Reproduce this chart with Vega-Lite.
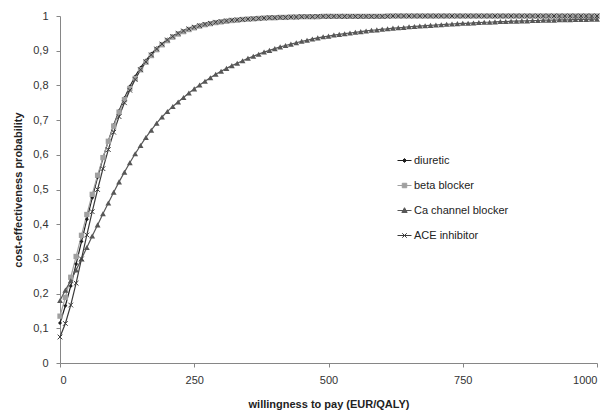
{
  "$schema": "https://vega.github.io/schema/vega-lite/v6.json",
  "width": 537,
  "height": 347,
  "autosize": {"type": "none"},
  "padding": {"left": 60, "top": 16, "right": 14, "bottom": 51},
  "background": "white",
  "config": {"view": {"stroke": null}, "font": "Liberation Sans"},
  "data": {"values": [
    {"w":0,"s":"diuretic","p":0.115},{"w":10,"s":"diuretic","p":0.165},{"w":20,"s":"diuretic","p":0.222},{"w":30,"s":"diuretic","p":0.285},{"w":40,"s":"diuretic","p":0.350},{"w":50,"s":"diuretic","p":0.414},{"w":60,"s":"diuretic","p":0.476},{"w":70,"s":"diuretic","p":0.535},{"w":80,"s":"diuretic","p":0.590},{"w":90,"s":"diuretic","p":0.640},
    {"w":100,"s":"diuretic","p":0.686},{"w":110,"s":"diuretic","p":0.727},{"w":120,"s":"diuretic","p":0.764},{"w":130,"s":"diuretic","p":0.797},{"w":140,"s":"diuretic","p":0.826},{"w":150,"s":"diuretic","p":0.851},{"w":160,"s":"diuretic","p":0.872},{"w":170,"s":"diuretic","p":0.891},{"w":180,"s":"diuretic","p":0.907},{"w":190,"s":"diuretic","p":0.920},
    {"w":200,"s":"diuretic","p":0.932},{"w":210,"s":"diuretic","p":0.942},{"w":220,"s":"diuretic","p":0.950},{"w":230,"s":"diuretic","p":0.957},{"w":240,"s":"diuretic","p":0.963},{"w":250,"s":"diuretic","p":0.968},{"w":260,"s":"diuretic","p":0.973},{"w":270,"s":"diuretic","p":0.977},{"w":280,"s":"diuretic","p":0.980},{"w":290,"s":"diuretic","p":0.983},
    {"w":300,"s":"diuretic","p":0.985},{"w":310,"s":"diuretic","p":0.987},{"w":320,"s":"diuretic","p":0.989},{"w":330,"s":"diuretic","p":0.990},{"w":340,"s":"diuretic","p":0.991},{"w":350,"s":"diuretic","p":0.992},{"w":360,"s":"diuretic","p":0.993},{"w":370,"s":"diuretic","p":0.994},{"w":380,"s":"diuretic","p":0.995},{"w":390,"s":"diuretic","p":0.996},
    {"w":400,"s":"diuretic","p":0.996},{"w":410,"s":"diuretic","p":0.997},{"w":420,"s":"diuretic","p":0.997},{"w":430,"s":"diuretic","p":0.998},{"w":440,"s":"diuretic","p":0.998},{"w":450,"s":"diuretic","p":0.998},{"w":460,"s":"diuretic","p":0.999},{"w":470,"s":"diuretic","p":0.999},{"w":480,"s":"diuretic","p":0.999},{"w":490,"s":"diuretic","p":0.999},
    {"w":500,"s":"diuretic","p":0.999},{"w":510,"s":"diuretic","p":0.999},{"w":520,"s":"diuretic","p":0.999},{"w":530,"s":"diuretic","p":0.999},{"w":540,"s":"diuretic","p":0.999},{"w":550,"s":"diuretic","p":0.999},{"w":560,"s":"diuretic","p":0.999},{"w":570,"s":"diuretic","p":0.999},{"w":580,"s":"diuretic","p":0.999},{"w":590,"s":"diuretic","p":0.999},
    {"w":600,"s":"diuretic","p":0.999},{"w":610,"s":"diuretic","p":1},{"w":620,"s":"diuretic","p":1},{"w":630,"s":"diuretic","p":1},{"w":640,"s":"diuretic","p":1},{"w":650,"s":"diuretic","p":1},{"w":660,"s":"diuretic","p":1},{"w":670,"s":"diuretic","p":1},{"w":680,"s":"diuretic","p":1},{"w":690,"s":"diuretic","p":1},
    {"w":700,"s":"diuretic","p":1},{"w":710,"s":"diuretic","p":1},{"w":720,"s":"diuretic","p":1},{"w":730,"s":"diuretic","p":1},{"w":740,"s":"diuretic","p":1},{"w":750,"s":"diuretic","p":1},{"w":760,"s":"diuretic","p":1},{"w":770,"s":"diuretic","p":1},{"w":780,"s":"diuretic","p":1},{"w":790,"s":"diuretic","p":1},
    {"w":800,"s":"diuretic","p":1},{"w":810,"s":"diuretic","p":1},{"w":820,"s":"diuretic","p":1},{"w":830,"s":"diuretic","p":1},{"w":840,"s":"diuretic","p":1},{"w":850,"s":"diuretic","p":1},{"w":860,"s":"diuretic","p":1},{"w":870,"s":"diuretic","p":1},{"w":880,"s":"diuretic","p":1},{"w":890,"s":"diuretic","p":1},
    {"w":900,"s":"diuretic","p":1},{"w":910,"s":"diuretic","p":1},{"w":920,"s":"diuretic","p":1},{"w":930,"s":"diuretic","p":1},{"w":940,"s":"diuretic","p":1},{"w":950,"s":"diuretic","p":1},{"w":960,"s":"diuretic","p":1},{"w":970,"s":"diuretic","p":1},{"w":980,"s":"diuretic","p":1},{"w":990,"s":"diuretic","p":1},{"w":1000,"s":"diuretic","p":1},

    {"w":0,"s":"beta blocker","p":0.135},{"w":10,"s":"beta blocker","p":0.189},{"w":20,"s":"beta blocker","p":0.247},{"w":30,"s":"beta blocker","p":0.307},{"w":40,"s":"beta blocker","p":0.368},{"w":50,"s":"beta blocker","p":0.428},{"w":60,"s":"beta blocker","p":0.486},{"w":70,"s":"beta blocker","p":0.541},{"w":80,"s":"beta blocker","p":0.592},{"w":90,"s":"beta blocker","p":0.639},
    {"w":100,"s":"beta blocker","p":0.683},{"w":110,"s":"beta blocker","p":0.723},{"w":120,"s":"beta blocker","p":0.759},{"w":130,"s":"beta blocker","p":0.791},{"w":140,"s":"beta blocker","p":0.820},{"w":150,"s":"beta blocker","p":0.845},{"w":160,"s":"beta blocker","p":0.867},{"w":170,"s":"beta blocker","p":0.886},{"w":180,"s":"beta blocker","p":0.903},{"w":190,"s":"beta blocker","p":0.917},
    {"w":200,"s":"beta blocker","p":0.929},{"w":210,"s":"beta blocker","p":0.939},{"w":220,"s":"beta blocker","p":0.948},{"w":230,"s":"beta blocker","p":0.955},{"w":240,"s":"beta blocker","p":0.961},{"w":250,"s":"beta blocker","p":0.966},{"w":260,"s":"beta blocker","p":0.971},{"w":270,"s":"beta blocker","p":0.975},{"w":280,"s":"beta blocker","p":0.978},{"w":290,"s":"beta blocker","p":0.981},
    {"w":300,"s":"beta blocker","p":0.983},{"w":310,"s":"beta blocker","p":0.985},{"w":320,"s":"beta blocker","p":0.987},{"w":330,"s":"beta blocker","p":0.988},{"w":340,"s":"beta blocker","p":0.990},{"w":350,"s":"beta blocker","p":0.991},{"w":360,"s":"beta blocker","p":0.992},{"w":370,"s":"beta blocker","p":0.993},{"w":380,"s":"beta blocker","p":0.994},{"w":390,"s":"beta blocker","p":0.995},
    {"w":400,"s":"beta blocker","p":0.995},{"w":410,"s":"beta blocker","p":0.996},{"w":420,"s":"beta blocker","p":0.996},{"w":430,"s":"beta blocker","p":0.997},{"w":440,"s":"beta blocker","p":0.997},{"w":450,"s":"beta blocker","p":0.998},{"w":460,"s":"beta blocker","p":0.998},{"w":470,"s":"beta blocker","p":0.998},{"w":480,"s":"beta blocker","p":0.998},{"w":490,"s":"beta blocker","p":0.999},
    {"w":500,"s":"beta blocker","p":0.999},{"w":510,"s":"beta blocker","p":0.999},{"w":520,"s":"beta blocker","p":0.999},{"w":530,"s":"beta blocker","p":0.999},{"w":540,"s":"beta blocker","p":0.999},{"w":550,"s":"beta blocker","p":0.999},{"w":560,"s":"beta blocker","p":0.999},{"w":570,"s":"beta blocker","p":0.999},{"w":580,"s":"beta blocker","p":0.999},{"w":590,"s":"beta blocker","p":0.999},
    {"w":600,"s":"beta blocker","p":0.999},{"w":610,"s":"beta blocker","p":1},{"w":620,"s":"beta blocker","p":1},{"w":630,"s":"beta blocker","p":1},{"w":640,"s":"beta blocker","p":1},{"w":650,"s":"beta blocker","p":1},{"w":660,"s":"beta blocker","p":1},{"w":670,"s":"beta blocker","p":1},{"w":680,"s":"beta blocker","p":1},{"w":690,"s":"beta blocker","p":1},
    {"w":700,"s":"beta blocker","p":1},{"w":710,"s":"beta blocker","p":1},{"w":720,"s":"beta blocker","p":1},{"w":730,"s":"beta blocker","p":1},{"w":740,"s":"beta blocker","p":1},{"w":750,"s":"beta blocker","p":1},{"w":760,"s":"beta blocker","p":1},{"w":770,"s":"beta blocker","p":1},{"w":780,"s":"beta blocker","p":1},{"w":790,"s":"beta blocker","p":1},
    {"w":800,"s":"beta blocker","p":1},{"w":810,"s":"beta blocker","p":1},{"w":820,"s":"beta blocker","p":1},{"w":830,"s":"beta blocker","p":1},{"w":840,"s":"beta blocker","p":1},{"w":850,"s":"beta blocker","p":1},{"w":860,"s":"beta blocker","p":1},{"w":870,"s":"beta blocker","p":1},{"w":880,"s":"beta blocker","p":1},{"w":890,"s":"beta blocker","p":1},
    {"w":900,"s":"beta blocker","p":1},{"w":910,"s":"beta blocker","p":1},{"w":920,"s":"beta blocker","p":1},{"w":930,"s":"beta blocker","p":1},{"w":940,"s":"beta blocker","p":1},{"w":950,"s":"beta blocker","p":1},{"w":960,"s":"beta blocker","p":1},{"w":970,"s":"beta blocker","p":1},{"w":980,"s":"beta blocker","p":1},{"w":990,"s":"beta blocker","p":1},{"w":1000,"s":"beta blocker","p":1},

    {"w":0,"s":"Ca channel blocker","p":0.180},{"w":10,"s":"Ca channel blocker","p":0.210},{"w":20,"s":"Ca channel blocker","p":0.237},{"w":30,"s":"Ca channel blocker","p":0.268},{"w":40,"s":"Ca channel blocker","p":0.300},{"w":50,"s":"Ca channel blocker","p":0.333},{"w":60,"s":"Ca channel blocker","p":0.366},{"w":70,"s":"Ca channel blocker","p":0.398},{"w":80,"s":"Ca channel blocker","p":0.430},{"w":90,"s":"Ca channel blocker","p":0.461},
    {"w":100,"s":"Ca channel blocker","p":0.492},{"w":110,"s":"Ca channel blocker","p":0.522},{"w":120,"s":"Ca channel blocker","p":0.550},{"w":130,"s":"Ca channel blocker","p":0.577},{"w":140,"s":"Ca channel blocker","p":0.603},{"w":150,"s":"Ca channel blocker","p":0.627},{"w":160,"s":"Ca channel blocker","p":0.650},{"w":170,"s":"Ca channel blocker","p":0.671},{"w":180,"s":"Ca channel blocker","p":0.691},{"w":190,"s":"Ca channel blocker","p":0.709},
    {"w":200,"s":"Ca channel blocker","p":0.725},{"w":210,"s":"Ca channel blocker","p":0.739},{"w":220,"s":"Ca channel blocker","p":0.752},{"w":230,"s":"Ca channel blocker","p":0.765},{"w":240,"s":"Ca channel blocker","p":0.778},{"w":250,"s":"Ca channel blocker","p":0.790},{"w":260,"s":"Ca channel blocker","p":0.801},{"w":270,"s":"Ca channel blocker","p":0.812},{"w":280,"s":"Ca channel blocker","p":0.822},{"w":290,"s":"Ca channel blocker","p":0.832},
    {"w":300,"s":"Ca channel blocker","p":0.841},{"w":310,"s":"Ca channel blocker","p":0.849},{"w":320,"s":"Ca channel blocker","p":0.857},{"w":330,"s":"Ca channel blocker","p":0.864},{"w":340,"s":"Ca channel blocker","p":0.871},{"w":350,"s":"Ca channel blocker","p":0.878},{"w":360,"s":"Ca channel blocker","p":0.884},{"w":370,"s":"Ca channel blocker","p":0.890},{"w":380,"s":"Ca channel blocker","p":0.896},{"w":390,"s":"Ca channel blocker","p":0.901},
    {"w":400,"s":"Ca channel blocker","p":0.906},{"w":410,"s":"Ca channel blocker","p":0.911},{"w":420,"s":"Ca channel blocker","p":0.915},{"w":430,"s":"Ca channel blocker","p":0.919},{"w":440,"s":"Ca channel blocker","p":0.923},{"w":450,"s":"Ca channel blocker","p":0.927},{"w":460,"s":"Ca channel blocker","p":0.930},{"w":470,"s":"Ca channel blocker","p":0.934},{"w":480,"s":"Ca channel blocker","p":0.937},{"w":490,"s":"Ca channel blocker","p":0.940},
    {"w":500,"s":"Ca channel blocker","p":0.942},{"w":510,"s":"Ca channel blocker","p":0.945},{"w":520,"s":"Ca channel blocker","p":0.947},{"w":530,"s":"Ca channel blocker","p":0.949},{"w":540,"s":"Ca channel blocker","p":0.951},{"w":550,"s":"Ca channel blocker","p":0.953},{"w":560,"s":"Ca channel blocker","p":0.955},{"w":570,"s":"Ca channel blocker","p":0.957},{"w":580,"s":"Ca channel blocker","p":0.959},{"w":590,"s":"Ca channel blocker","p":0.960},
    {"w":600,"s":"Ca channel blocker","p":0.962},{"w":610,"s":"Ca channel blocker","p":0.963},{"w":620,"s":"Ca channel blocker","p":0.965},{"w":630,"s":"Ca channel blocker","p":0.966},{"w":640,"s":"Ca channel blocker","p":0.967},{"w":650,"s":"Ca channel blocker","p":0.969},{"w":660,"s":"Ca channel blocker","p":0.970},{"w":670,"s":"Ca channel blocker","p":0.971},{"w":680,"s":"Ca channel blocker","p":0.972},{"w":690,"s":"Ca channel blocker","p":0.973},
    {"w":700,"s":"Ca channel blocker","p":0.974},{"w":710,"s":"Ca channel blocker","p":0.975},{"w":720,"s":"Ca channel blocker","p":0.976},{"w":730,"s":"Ca channel blocker","p":0.977},{"w":740,"s":"Ca channel blocker","p":0.978},{"w":750,"s":"Ca channel blocker","p":0.979},{"w":760,"s":"Ca channel blocker","p":0.979},{"w":770,"s":"Ca channel blocker","p":0.980},{"w":780,"s":"Ca channel blocker","p":0.981},{"w":790,"s":"Ca channel blocker","p":0.982},
    {"w":800,"s":"Ca channel blocker","p":0.982},{"w":810,"s":"Ca channel blocker","p":0.983},{"w":820,"s":"Ca channel blocker","p":0.984},{"w":830,"s":"Ca channel blocker","p":0.984},{"w":840,"s":"Ca channel blocker","p":0.985},{"w":850,"s":"Ca channel blocker","p":0.985},{"w":860,"s":"Ca channel blocker","p":0.986},{"w":870,"s":"Ca channel blocker","p":0.986},{"w":880,"s":"Ca channel blocker","p":0.987},{"w":890,"s":"Ca channel blocker","p":0.987},
    {"w":900,"s":"Ca channel blocker","p":0.988},{"w":910,"s":"Ca channel blocker","p":0.988},{"w":920,"s":"Ca channel blocker","p":0.988},{"w":930,"s":"Ca channel blocker","p":0.989},{"w":940,"s":"Ca channel blocker","p":0.989},{"w":950,"s":"Ca channel blocker","p":0.989},{"w":960,"s":"Ca channel blocker","p":0.990},{"w":970,"s":"Ca channel blocker","p":0.990},{"w":980,"s":"Ca channel blocker","p":0.990},{"w":990,"s":"Ca channel blocker","p":0.991},{"w":1000,"s":"Ca channel blocker","p":0.991},

    {"w":0,"s":"ACE inhibitor","p":0.075},{"w":10,"s":"ACE inhibitor","p":0.114},{"w":20,"s":"ACE inhibitor","p":0.167},{"w":30,"s":"ACE inhibitor","p":0.230},{"w":40,"s":"ACE inhibitor","p":0.300},{"w":50,"s":"ACE inhibitor","p":0.369},{"w":60,"s":"ACE inhibitor","p":0.436},{"w":70,"s":"ACE inhibitor","p":0.500},{"w":80,"s":"ACE inhibitor","p":0.560},{"w":90,"s":"ACE inhibitor","p":0.615},
    {"w":100,"s":"ACE inhibitor","p":0.665},{"w":110,"s":"ACE inhibitor","p":0.710},{"w":120,"s":"ACE inhibitor","p":0.750},{"w":130,"s":"ACE inhibitor","p":0.786},{"w":140,"s":"ACE inhibitor","p":0.817},{"w":150,"s":"ACE inhibitor","p":0.845},{"w":160,"s":"ACE inhibitor","p":0.868},{"w":170,"s":"ACE inhibitor","p":0.888},{"w":180,"s":"ACE inhibitor","p":0.905},{"w":190,"s":"ACE inhibitor","p":0.919},
    {"w":200,"s":"ACE inhibitor","p":0.931},{"w":210,"s":"ACE inhibitor","p":0.941},{"w":220,"s":"ACE inhibitor","p":0.950},{"w":230,"s":"ACE inhibitor","p":0.957},{"w":240,"s":"ACE inhibitor","p":0.963},{"w":250,"s":"ACE inhibitor","p":0.968},{"w":260,"s":"ACE inhibitor","p":0.972},{"w":270,"s":"ACE inhibitor","p":0.976},{"w":280,"s":"ACE inhibitor","p":0.979},{"w":290,"s":"ACE inhibitor","p":0.982},
    {"w":300,"s":"ACE inhibitor","p":0.984},{"w":310,"s":"ACE inhibitor","p":0.986},{"w":320,"s":"ACE inhibitor","p":0.988},{"w":330,"s":"ACE inhibitor","p":0.989},{"w":340,"s":"ACE inhibitor","p":0.990},{"w":350,"s":"ACE inhibitor","p":0.991},{"w":360,"s":"ACE inhibitor","p":0.992},{"w":370,"s":"ACE inhibitor","p":0.993},{"w":380,"s":"ACE inhibitor","p":0.994},{"w":390,"s":"ACE inhibitor","p":0.995},
    {"w":400,"s":"ACE inhibitor","p":0.995},{"w":410,"s":"ACE inhibitor","p":0.996},{"w":420,"s":"ACE inhibitor","p":0.996},{"w":430,"s":"ACE inhibitor","p":0.997},{"w":440,"s":"ACE inhibitor","p":0.997},{"w":450,"s":"ACE inhibitor","p":0.998},{"w":460,"s":"ACE inhibitor","p":0.998},{"w":470,"s":"ACE inhibitor","p":0.998},{"w":480,"s":"ACE inhibitor","p":0.999},{"w":490,"s":"ACE inhibitor","p":0.999},
    {"w":500,"s":"ACE inhibitor","p":0.999},{"w":510,"s":"ACE inhibitor","p":0.999},{"w":520,"s":"ACE inhibitor","p":0.999},{"w":530,"s":"ACE inhibitor","p":0.999},{"w":540,"s":"ACE inhibitor","p":0.999},{"w":550,"s":"ACE inhibitor","p":0.999},{"w":560,"s":"ACE inhibitor","p":0.999},{"w":570,"s":"ACE inhibitor","p":0.999},{"w":580,"s":"ACE inhibitor","p":0.999},{"w":590,"s":"ACE inhibitor","p":0.999},
    {"w":600,"s":"ACE inhibitor","p":0.999},{"w":610,"s":"ACE inhibitor","p":0.999},{"w":620,"s":"ACE inhibitor","p":1},{"w":630,"s":"ACE inhibitor","p":1},{"w":640,"s":"ACE inhibitor","p":1},{"w":650,"s":"ACE inhibitor","p":1},{"w":660,"s":"ACE inhibitor","p":1},{"w":670,"s":"ACE inhibitor","p":1},{"w":680,"s":"ACE inhibitor","p":1},{"w":690,"s":"ACE inhibitor","p":1},
    {"w":700,"s":"ACE inhibitor","p":1},{"w":710,"s":"ACE inhibitor","p":1},{"w":720,"s":"ACE inhibitor","p":1},{"w":730,"s":"ACE inhibitor","p":1},{"w":740,"s":"ACE inhibitor","p":1},{"w":750,"s":"ACE inhibitor","p":1},{"w":760,"s":"ACE inhibitor","p":1},{"w":770,"s":"ACE inhibitor","p":1},{"w":780,"s":"ACE inhibitor","p":1},{"w":790,"s":"ACE inhibitor","p":1},
    {"w":800,"s":"ACE inhibitor","p":1},{"w":810,"s":"ACE inhibitor","p":1},{"w":820,"s":"ACE inhibitor","p":1},{"w":830,"s":"ACE inhibitor","p":1},{"w":840,"s":"ACE inhibitor","p":1},{"w":850,"s":"ACE inhibitor","p":1},{"w":860,"s":"ACE inhibitor","p":1},{"w":870,"s":"ACE inhibitor","p":1},{"w":880,"s":"ACE inhibitor","p":1},{"w":890,"s":"ACE inhibitor","p":1},
    {"w":900,"s":"ACE inhibitor","p":1},{"w":910,"s":"ACE inhibitor","p":1},{"w":920,"s":"ACE inhibitor","p":1},{"w":930,"s":"ACE inhibitor","p":1},{"w":940,"s":"ACE inhibitor","p":1},{"w":950,"s":"ACE inhibitor","p":1},{"w":960,"s":"ACE inhibitor","p":1},{"w":970,"s":"ACE inhibitor","p":1},{"w":980,"s":"ACE inhibitor","p":1},{"w":990,"s":"ACE inhibitor","p":1},{"w":1000,"s":"ACE inhibitor","p":1}
  ]},
  "encoding": {
    "x": {"field": "w", "type": "quantitative", "title": "willingness to pay (EUR/QALY)",
      "scale": {"domain": [0, 1000], "nice": false, "zero": false},
      "axis": {"values": [0, 250, 500, 750, 1000], "format": "d", "grid": false,
        "domainColor": "#868686", "tickColor": "#868686", "tickSize": 4,
        "labelFont": "Liberation Sans", "labelFontSize": 11, "labelColor": "#333333", "labelPadding": 7,
        "titleFont": "Liberation Sans", "titleFontSize": 11, "titleFontWeight": "bold", "titleColor": "#222222", "titlePadding": 13}},
    "y": {"field": "p", "type": "quantitative", "title": "cost-effectiveness probability",
      "scale": {"domain": [0, 1], "nice": false},
      "axis": {"values": [0, 0.1, 0.2, 0.3, 0.4, 0.5, 0.6, 0.7, 0.8, 0.9, 1], "grid": false,
        "labelExpr": "replace(format(datum.value, '.1~f'), '.', ',')",
        "domainColor": "#868686", "tickColor": "#868686", "tickSize": 4,
        "labelFont": "Liberation Sans", "labelFontSize": 11, "labelColor": "#333333", "labelPadding": 8,
        "titleFont": "Liberation Sans", "titleFontSize": 11, "titleFontWeight": "bold", "titleColor": "#222222", "titlePadding": 9}},
    "color": {"field": "s", "type": "nominal",
      "scale": {"domain": ["diuretic", "beta blocker", "Ca channel blocker", "ACE inhibitor"],
                "range": ["#1e1e1e", "#a0a0a0", "#575757", "#3a3a3a"]},
      "legend": {"title": null, "orient": "none", "legendX": 337, "legendY": 137, "padding": 0,
        "symbolSize": 196, "rowPadding": 12, "labelOffset": 2,
        "labelFont": "Liberation Sans", "labelFontSize": 11, "labelColor": "#222222",
        "encode": {"symbols": {"update": {
          "shape": {"signal": "datum.value === 'diuretic' ? 'M-1,0H1M0,-0.28L0.28,0L0,0.28L-0.28,0Z' : datum.value === 'beta blocker' ? 'M-1,0H1M-0.32,-0.32H0.32V0.32H-0.32Z' : datum.value === 'Ca channel blocker' ? 'M-1,0H1M0,-0.4L0.38,0.28H-0.38Z' : 'M-1,0H1M-0.32,-0.32L0.32,0.32M-0.32,0.32L0.32,-0.32'"},
          "fill": {"scale": "color", "field": "value"},
          "stroke": {"scale": "color", "field": "value"},
          "strokeWidth": {"value": 1},
          "opacity": {"value": 1}
        }}}}}
  },
  "layer": [
    {"mark": {"type": "line", "strokeWidth": 1.2}, "encoding": {}},
    {"transform": [{"filter": "datum.s === 'diuretic'"}],
     "mark": {"type": "point", "shape": "diamond", "filled": true, "opacity": 1, "size": 16}, "encoding": {}},
    {"transform": [{"filter": "datum.s === 'beta blocker'"}],
     "mark": {"type": "point", "shape": "square", "filled": true, "opacity": 1, "size": 28}, "encoding": {}},
    {"transform": [{"filter": "datum.s === 'Ca channel blocker'"}],
     "mark": {"type": "point", "shape": "triangle-up", "filled": true, "opacity": 1, "size": 34}, "encoding": {}},
    {"transform": [{"filter": "datum.s === 'ACE inhibitor'"}],
     "mark": {"type": "point", "shape": "M-1,-1L1,1M-1,1L1,-1", "filled": false, "opacity": 1, "size": 22, "strokeWidth": 1},
     "encoding": {}}
  ]
}
